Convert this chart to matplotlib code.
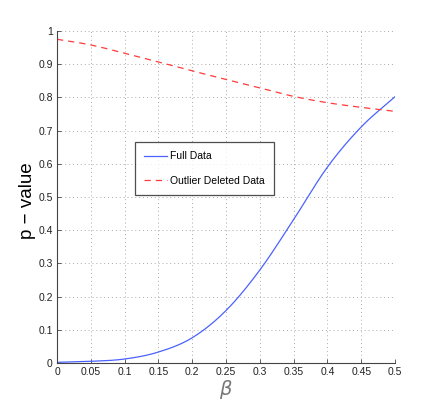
import matplotlib
matplotlib.use("Agg")
import matplotlib.pyplot as plt
import numpy as np

beta = [0, 0.05, 0.1, 0.15, 0.2, 0.25, 0.3, 0.35, 0.4, 0.45, 0.5]
full_data = [0.002, 0.005, 0.012, 0.033, 0.076, 0.158, 0.28, 0.432, 0.59, 0.711, 0.802]
outlier_deleted = [0.975, 0.958, 0.933, 0.907, 0.880, 0.854, 0.829, 0.803, 0.784, 0.770, 0.758]

xticks = [0, 0.05, 0.1, 0.15, 0.2, 0.25, 0.3, 0.35, 0.4, 0.45, 0.5]
xticklabels = ["0", "0.05", "0.1", "0.15", "0.2", "0.25", "0.3", "0.35", "0.4", "0.45", "0.5"]
yticks = [0, 0.1, 0.2, 0.3, 0.4, 0.5, 0.6, 0.7, 0.8, 0.9, 1]
yticklabels = ["0", "0.1", "0.2", "0.3", "0.4", "0.5", "0.6", "0.7", "0.8", "0.9", "1"]

tickfont = ["Liberation Sans Narrow", "Liberation Sans", "DejaVu Sans"]

fig = plt.figure(figsize=(4.36, 4.09), dpi=100)
ax = fig.add_axes([57/436, 46/409, 338/436, 332/409])

xs = np.linspace(0, 0.5, 300)
def smooth(x, y, xs):
    # cubic Hermite curve through the read points, for display only
    x = np.asarray(x); y = np.asarray(y)
    m = np.gradient(y, x)
    out = np.empty_like(xs)
    for i, xv in enumerate(xs):
        k = min(np.searchsorted(x, xv, side='right') - 1, len(x) - 2)
        h = x[k+1] - x[k]
        t = (xv - x[k]) / h
        h00 = 2*t**3 - 3*t**2 + 1
        h10 = t**3 - 2*t**2 + t
        h01 = -2*t**3 + 3*t**2
        h11 = t**3 - t**2
        out[i] = h00*y[k] + h10*h*m[k] + h01*y[k+1] + h11*h*m[k+1]
    return out

ax.plot(xs, smooth(beta, full_data, xs), color="#4a62ff", lw=0.9, label="Full Data")
ax.plot(xs, smooth(beta, outlier_deleted, xs), color="#ff3b3b", lw=0.9,
        ls=(0, (5, 4)), label="Outlier Deleted Data")

ax.set_xlim(0, 0.5)
ax.set_ylim(0, 1)
ax.set_xticks(xticks)
ax.set_xticklabels(xticklabels, family=tickfont, fontsize=7.5)
ax.set_yticks(yticks)
ax.set_yticklabels(yticklabels, family=tickfont, fontsize=7.5)
ax.tick_params(direction="in", length=3, width=0.6, color="#444444", pad=3, labelcolor="#222222")
ax.grid(True, ls=(0, (1, 3)), color="#aaaaaa", lw=0.7)

for s in ["top", "right"]:
    ax.spines[s].set_visible(False)
for s in ["left", "bottom"]:
    ax.spines[s].set_color("#444444")
    ax.spines[s].set_linewidth(0.8)

ax.set_ylabel("p − value", family=["Liberation Sans", "DejaVu Sans"], fontsize=13.5)
ax.yaxis.set_label_coords(-0.062, 0.49)
ax.set_xlabel(r"$\beta$", fontsize=14, color="#777777")
ax.xaxis.set_label_coords(0.5, -0.045)

leg = ax.legend(loc="upper left", bbox_to_anchor=((135-57)/338, (363-142)/332),
                prop={"family": tickfont, "size": 7.5}, frameon=True, fancybox=False,
                edgecolor="#222222", handlelength=2.2, borderpad=0.9, labelspacing=1.4,
                handletextpad=0.3, borderaxespad=0)
leg.get_frame().set_linewidth(0.9)

fig.savefig("out.png", dpi=100)
